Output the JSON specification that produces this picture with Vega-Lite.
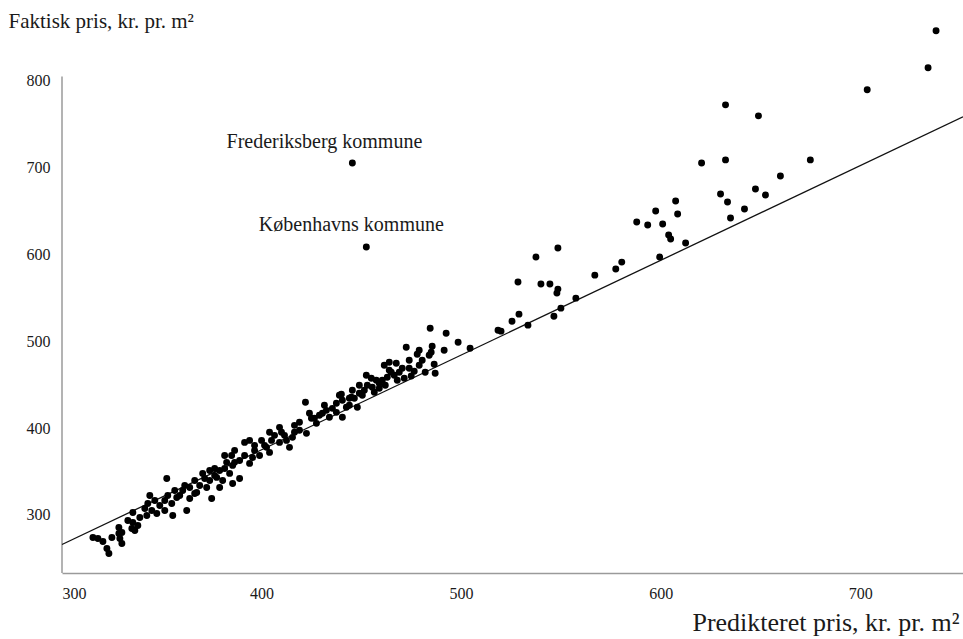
{
  "$schema": "https://vega.github.io/schema/vega-lite/v6.json",
  "autosize": {"type": "none"},
  "width": 901,
  "height": 553,
  "padding": {"left": 62, "top": 20, "right": 0, "bottom": 66},
  "background": "white",
  "config": {
    "font": "Liberation Serif",
    "view": {"stroke": null},
    "axis": {"grid": false, "ticks": false, "labelFont": "Liberation Serif", "titleFont": "Liberation Serif", "labelColor": "#1a1a1a", "titleColor": "#1a1a1a", "titleFontWeight": "normal", "domainColor": "#9a9a9a", "domainWidth": 1.5}
  },
  "datasets": {
    "points": [
      {"pred": 738, "actual": 857.7}, {"pred": 734, "actual": 815.0}, {"pred": 703.5, "actual": 789.6},
      {"pred": 632.5, "actual": 772.3}, {"pred": 649, "actual": 759.6}, {"pred": 675, "actual": 708.9},
      {"pred": 632.5, "actual": 708.9}, {"pred": 620.5, "actual": 705.4}, {"pred": 660, "actual": 690.4},
      {"pred": 647.5, "actual": 675.4}, {"pred": 652.5, "actual": 668.5}, {"pred": 630, "actual": 669.7},
      {"pred": 633.5, "actual": 660.4}, {"pred": 642, "actual": 652.4}, {"pred": 635, "actual": 642.0},
      {"pred": 607.5, "actual": 661.6}, {"pred": 608.5, "actual": 646.6}, {"pred": 597.5, "actual": 650.1},
      {"pred": 588, "actual": 637.4}, {"pred": 593.5, "actual": 633.9}, {"pred": 601, "actual": 635.1},
      {"pred": 604, "actual": 622.4}, {"pred": 605, "actual": 617.8}, {"pred": 612.5, "actual": 613.2},
      {"pred": 599.5, "actual": 597.0}, {"pred": 580.5, "actual": 591.2}, {"pred": 577.5, "actual": 583.2},
      {"pred": 567, "actual": 576.2}, {"pred": 548.5, "actual": 607.4}, {"pred": 537.5, "actual": 597.0},
      {"pred": 528.5, "actual": 568.2}, {"pred": 540, "actual": 565.9}, {"pred": 544.5, "actual": 565.9},
      {"pred": 548.5, "actual": 560.1}, {"pred": 548, "actual": 555.5}, {"pred": 557.5, "actual": 549.7},
      {"pred": 550, "actual": 538.2}, {"pred": 546.5, "actual": 528.9}, {"pred": 533.5, "actual": 518.6},
      {"pred": 529, "actual": 531.3}, {"pred": 525.5, "actual": 523.2}, {"pred": 520, "actual": 511.7},
      {"pred": 518.5, "actual": 512.8}, {"pred": 504.5, "actual": 492.0}, {"pred": 498.5, "actual": 499.0},
      {"pred": 492.5, "actual": 509.3}, {"pred": 484.5, "actual": 515.1}, {"pred": 491.5, "actual": 489.7},
      {"pred": 485.5, "actual": 494.4}, {"pred": 485, "actual": 487.4}, {"pred": 484, "actual": 484.0},
      {"pred": 472.5, "actual": 493.2}, {"pred": 478, "actual": 485.1}, {"pred": 480.5, "actual": 478.2},
      {"pred": 486.5, "actual": 473.6}, {"pred": 487, "actual": 463.2}, {"pred": 482, "actual": 464.4},
      {"pred": 476.5, "actual": 465.5}, {"pred": 470.5, "actual": 469.0}, {"pred": 471.5, "actual": 457.4},
      {"pred": 467.5, "actual": 474.7}, {"pred": 464, "actual": 475.9}, {"pred": 461.5, "actual": 472.4},
      {"pred": 465, "actual": 464.4}, {"pred": 466.5, "actual": 460.9}, {"pred": 463, "actual": 458.6},
      {"pred": 460.5, "actual": 455.1}, {"pred": 459, "actual": 451.7}, {"pred": 457.5, "actual": 455.1},
      {"pred": 455.5, "actual": 447.1}, {"pred": 453, "actual": 449.4}, {"pred": 452.5, "actual": 460.9},
      {"pred": 451.5, "actual": 443.6}, {"pred": 449, "actual": 440.1}, {"pred": 445.5, "actual": 443.6},
      {"pred": 445, "actual": 435.5}, {"pred": 440, "actual": 439.0}, {"pred": 439, "actual": 437.8},
      {"pred": 440.5, "actual": 432.1}, {"pred": 442.5, "actual": 424.0}, {"pred": 437.5, "actual": 428.6},
      {"pred": 435.5, "actual": 422.8}, {"pred": 432.5, "actual": 420.5}, {"pred": 430.5, "actual": 417.1},
      {"pred": 434, "actual": 412.5}, {"pred": 440.5, "actual": 412.5}, {"pred": 448, "actual": 424.0},
      {"pred": 422, "actual": 429.8}, {"pred": 424, "actual": 417.1}, {"pred": 427.5, "actual": 405.5},
      {"pred": 419, "actual": 397.5}, {"pred": 422.5, "actual": 394.0}, {"pred": 415.5, "actual": 389.4},
      {"pred": 412.5, "actual": 385.9}, {"pred": 409, "actual": 383.6}, {"pred": 414, "actual": 377.9},
      {"pred": 409, "actual": 400.9}, {"pred": 410, "actual": 395.2}, {"pred": 400, "actual": 385.9},
      {"pred": 402.5, "actual": 377.9}, {"pred": 404, "actual": 372.1}, {"pred": 399, "actual": 368.6},
      {"pred": 395.5, "actual": 366.3}, {"pred": 394, "actual": 359.4}, {"pred": 391.5, "actual": 383.6},
      {"pred": 389, "actual": 362.8}, {"pred": 385.5, "actual": 357.1}, {"pred": 382.5, "actual": 360.6},
      {"pred": 379, "actual": 351.3}, {"pred": 384, "actual": 347.9}, {"pred": 377.5, "actual": 343.3},
      {"pred": 380.5, "actual": 339.8}, {"pred": 374, "actual": 339.8}, {"pred": 389, "actual": 342.1},
      {"pred": 370.5, "actual": 347.9}, {"pred": 385.5, "actual": 336.3}, {"pred": 379, "actual": 331.7},
      {"pred": 372.5, "actual": 331.7}, {"pred": 352.5, "actual": 342.1}, {"pred": 375, "actual": 319.0},
      {"pred": 364, "actual": 331.7}, {"pred": 366.5, "actual": 324.8}, {"pred": 360.5, "actual": 328.3},
      {"pred": 357.5, "actual": 320.2}, {"pred": 355, "actual": 313.3}, {"pred": 351.5, "actual": 316.7},
      {"pred": 349, "actual": 311.0}, {"pred": 343, "actual": 313.3}, {"pred": 345, "actual": 305.2},
      {"pred": 347.5, "actual": 301.7}, {"pred": 342.5, "actual": 299.4}, {"pred": 339, "actual": 297.1},
      {"pred": 335.5, "actual": 302.9}, {"pred": 362.5, "actual": 305.2}, {"pred": 355.5, "actual": 299.4},
      {"pred": 335.5, "actual": 291.3}, {"pred": 338, "actual": 287.9}, {"pred": 335, "actual": 284.4},
      {"pred": 336.5, "actual": 282.1}, {"pred": 330, "actual": 279.8}, {"pred": 325, "actual": 274.0},
      {"pred": 315.5, "actual": 274.0}, {"pred": 318, "actual": 272.9}, {"pred": 320.5, "actual": 269.4},
      {"pred": 328.5, "actual": 285.6}, {"pred": 328.5, "actual": 278.7}, {"pred": 329, "actual": 272.9},
      {"pred": 330, "actual": 267.1}, {"pred": 322.5, "actual": 261.4}, {"pred": 323.5, "actual": 255.6},
      {"pred": 359, "actual": 322.5}, {"pred": 367.5, "actual": 326.0}, {"pred": 376.5, "actual": 353.6},
      {"pred": 381.5, "actual": 368.6}, {"pred": 386.5, "actual": 374.4}, {"pred": 396.5, "actual": 380.2},
      {"pred": 406.5, "actual": 391.7}, {"pred": 416.5, "actual": 403.2}, {"pred": 426.5, "actual": 411.3},
      {"pred": 431.5, "actual": 426.3}, {"pred": 444, "actual": 434.4}, {"pred": 449, "actual": 449.4},
      {"pred": 455, "actual": 457.4}, {"pred": 464, "actual": 466.7}, {"pred": 474, "actual": 478.2},
      {"pred": 479, "actual": 489.7}, {"pred": 445.5, "actual": 705.4}, {"pred": 452.5, "actual": 608.5},
      {"pred": 341.5, "actual": 307.5}, {"pred": 346.5, "actual": 316.7}, {"pred": 353, "actual": 322.5},
      {"pred": 356.5, "actual": 328.3}, {"pred": 361.5, "actual": 334.0}, {"pred": 366.5, "actual": 339.8},
      {"pred": 351.5, "actual": 305.2}, {"pred": 369, "actual": 334.0}, {"pred": 374, "actual": 351.3},
      {"pred": 381.5, "actual": 353.6}, {"pred": 386.5, "actual": 360.6}, {"pred": 391.5, "actual": 368.6},
      {"pred": 396.5, "actual": 374.4}, {"pred": 401.5, "actual": 380.2}, {"pred": 405, "actual": 385.9},
      {"pred": 411.5, "actual": 391.7}, {"pred": 416.5, "actual": 395.2}, {"pred": 419, "actual": 406.7},
      {"pred": 425, "actual": 411.3}, {"pred": 429, "actual": 414.8}, {"pred": 437.5, "actual": 418.2},
      {"pred": 444, "actual": 426.3}, {"pred": 446.5, "actual": 434.4}, {"pred": 450.5, "actual": 437.8},
      {"pred": 456.5, "actual": 441.3}, {"pred": 459, "actual": 445.9}, {"pred": 462, "actual": 449.4},
      {"pred": 468, "actual": 455.1}, {"pred": 469, "actual": 464.4}, {"pred": 474, "actual": 469.0},
      {"pred": 475, "actual": 460.0}, {"pred": 479, "actual": 472.4}, {"pred": 394, "actual": 385.9},
      {"pred": 385, "actual": 368.6}, {"pred": 376.5, "actual": 345.6}, {"pred": 371.5, "actual": 342.1},
      {"pred": 333, "actual": 293.7}, {"pred": 344, "actual": 322.5}, {"pred": 364, "actual": 319.0},
      {"pred": 404, "actual": 395.2}
    ],
    "fit": [{"pred": 300, "actual": 266.0}, {"pred": 751.5, "actual": 758.5}],
    "yaxis": [{"pred": 300, "actual": 233.2, "actual2": 805}],
    "labels": [
      {"pred": 431.5, "actual": 729.6, "label": "Frederiksberg kommune"},
      {"pred": 445, "actual": 633.9, "label": "Københavns kommune"}
    ]
  },
  "layer": [
    {
      "data": {"name": "yaxis"},
      "mark": {"type": "rule", "color": "#9a9a9a", "strokeWidth": 1.5},
      "encoding": {
        "x": {"field": "pred", "type": "quantitative", "scale": {"domain": [300, 751.5], "nice": false, "zero": false},
          "axis": {"values": [300, 400, 500, 600, 700], "labelFontSize": 16, "labelPadding": 12, "labelFlush": true,
            "title": "Predikteret pris, kr. pr. m²", "titleFontSize": 26, "titleAnchor": "end", "titleAlign": "right",
            "titleBaseline": "alphabetic", "titleX": 897, "titleY": 57}},
        "y": {"field": "actual", "type": "quantitative", "scale": {"domain": [233.2, 870], "nice": false, "zero": false},
          "axis": {"values": [300, 400, 500, 600, 700, 800], "domain": false, "labelFontSize": 16, "labelPadding": 12,
            "title": "Faktisk pris, kr. pr. m²", "titleFontSize": 21, "titleAngle": 0, "titleAlign": "left",
            "titleBaseline": "alphabetic", "titleX": -54, "titleY": 7}},
        "y2": {"field": "actual2"}
      }
    },
    {
      "data": {"name": "fit"},
      "mark": {"type": "line", "color": "#111", "strokeWidth": 1.3},
      "encoding": {
        "x": {"field": "pred", "type": "quantitative"},
        "y": {"field": "actual", "type": "quantitative"}
      }
    },
    {
      "data": {"name": "points"},
      "mark": {"type": "point", "filled": true, "color": "#000", "opacity": 1, "size": 48},
      "encoding": {
        "x": {"field": "pred", "type": "quantitative"},
        "y": {"field": "actual", "type": "quantitative"}
      }
    },
    {
      "data": {"name": "labels"},
      "mark": {"type": "text", "font": "Liberation Serif", "fontSize": 20, "color": "#1a1a1a", "align": "center", "baseline": "middle"},
      "encoding": {
        "x": {"field": "pred", "type": "quantitative"},
        "y": {"field": "actual", "type": "quantitative"},
        "text": {"field": "label"}
      }
    }
  ]
}
